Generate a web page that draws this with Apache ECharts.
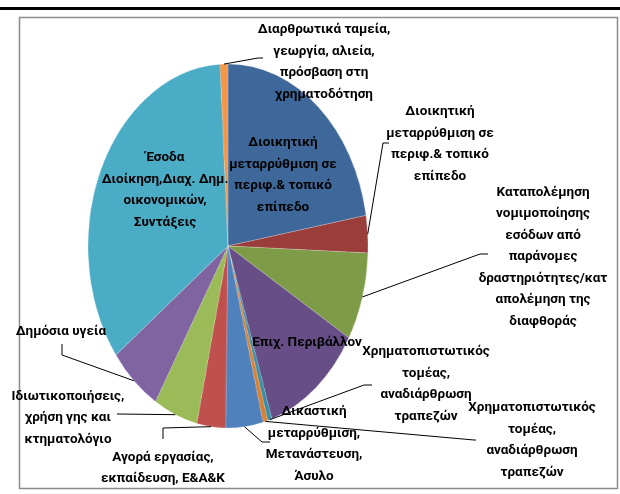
<!DOCTYPE html>
<html><head><meta charset="utf-8">
<script src="https://cdn.jsdelivr.net/npm/echarts@6.0.0/dist/echarts.min.js"></script>
<style>
html,body{margin:0;padding:0;background:#fff;}
#wrap{position:relative;width:620px;height:494px;overflow:hidden;}
#pie,#lab{position:absolute;left:0;top:0;width:620px;height:494px;}
#pie{transform-origin:228px 246px;transform:scaleX(0.769);}
</style></head><body>
<div id="wrap"><div id="pie"></div><div id="lab"></div></div>
<script>
// ---- data (clockwise from 12 o'clock) ----
const categories = [
  'Διοικητική\nμεταρρύθμιση σε\nπεριφ.& τοπικό\nεπίπεδο',
  'Διοικητική\nμεταρρύθμιση σε\nπεριφ.& τοπικό\nεπίπεδο',
  'Καταπολέμηση\nνομιμοποίησης\nεσόδων από\nπαράνομες\nδραστηριότητες/κατ\nαπολέμηση της\nδιαφθοράς',
  'Επιχ. Περιβάλλον',
  'Χρηματοπιστωτικός\nτομέας,\nαναδιάρθρωση\nτραπεζών',
  'Χρηματοπιστωτικός\nτομέας,\nαναδιάρθρωση\nτραπεζών',
  'Δικαστική\nμεταρρύθμιση,\nΜετανάστευση,\nΆσυλο',
  'Αγορά εργασίας,\nεκπαίδευση, Ε&Α&Κ',
  'Ιδιωτικοποιήσεις,\nχρήση γης και\nκτηματολόγιο',
  'Δημόσια υγεία',
  'Έσοδα\nΔιοίκηση,Διαχ. Δημ.\nοικονομικών,\nΣυντάξεις',
  'Διαρθρωτικά ταμεία,\nγεωργία, αλιεία,\nπρόσβαση στη\nχρηματοδότηση'
];
const values = [22.3, 3.3, 7.8, 11.5, 0.5, 0.55, 4.3, 3.3, 5.1, 6.1, 34.3, 0.9];
const colors = ['#3F689A', '#9A3D3B', '#7E9B48', '#674E86', '#3A8EA6', '#DA8033',
                '#4F81BD', '#C0504D', '#9BBB59', '#8064A2', '#4BACC6', '#F79646'];

// ---- layout / style ----
const CX = 228, CY = 246, R = 182, K = 140 / 182;
const labelLayouts = [
  {x: 283, y: 175, inside: true},
  {x: 440, y: 144, line: [[383, 143], [389, 143]]},
  {x: 543, y: 257, line: [[480, 254], [488, 254]]},
  {x: 307, y: 343, inside: true},
  {x: 426, y: 384, line: [[364, 385], [372, 385]]},
  {x: 532, y: 440, line: [[474, 440], [476, 440]]},
  {x: 314, y: 444, line: [[262, 442], [270, 442]]},
  {x: 163, y: 468, line: [[163, 428], [163, 439]]},
  {x: 68, y: 418, line: [[118, 414], [117, 414]]},
  {x: 61, y: 332, line: [[62, 355], [62, 344]]},
  {x: 165, y: 190, inside: true},
  {x: 324, y: 62, line: [[258, 58], [263, 58]]}
];
const textStyle = {
  fontFamily: 'Roboto, "Liberation Sans", Arial, sans-serif',
  fontWeight: 'bold', fontSize: 13.5, lineHeight: 21.5, color: '#000'
};

const pieData = categories.map((c, i) => ({
  name: c, value: values[i], itemStyle: {color: colors[i]}
}));

const chartA = echarts.init(document.getElementById('pie'));
chartA.setOption({
  animation: false,
  series: [{
    type: 'pie', center: [CX, CY], radius: R, startAngle: 90, clockwise: true,
    avoidLabelOverlap: false,
    label: {show: false}, labelLine: {show: false},
    emphasis: {disabled: true},
    itemStyle: {borderColor: 'rgba(255,255,255,0.35)', borderWidth: 0.6},
    data: pieData
  }]
});

const labData = categories.map((c, i) => ({
  name: c, value: values[i],
  label: {position: labelLayouts[i].inside ? 'inside' : 'outside'},
  labelLine: {show: !labelLayouts[i].inside}
}));

const chartB = echarts.init(document.getElementById('lab'));
chartB.setOption({
  animation: false,
  graphic: [
    {type: 'rect', shape: {x: 0, y: 7, width: 620, height: 3}, style: {fill: '#000'}, silent: true},
    {type: 'rect', shape: {x: 19.5, y: 17.5, width: 598, height: 471}, style: {fill: 'none', stroke: '#8c8c8c', lineWidth: 1.5}, silent: true}
  ],
  series: [{
    type: 'pie', center: [CX, CY], radius: R, startAngle: 90, clockwise: true,
    avoidLabelOverlap: false,
    itemStyle: {color: 'rgba(0,0,0,0)'},
    emphasis: {disabled: true},
    label: Object.assign({show: true, formatter: '{b}', align: 'center'}, textStyle),
    labelLine: {show: true, length: 10, length2: 5, lineStyle: {color: '#000', width: 1}},
    labelLayout: function (params) {
      const L = labelLayouts[params.dataIndex];
      const res = {x: L.x, y: L.y, align: 'center', verticalAlign: 'middle'};
      if (L.line && params.labelLinePoints) {
        const p0 = params.labelLinePoints[0];
        res.labelLinePoints = [[CX + (p0[0] - CX) * K, p0[1]], L.line[0], L.line[1]];
      }
      return res;
    },
    data: labData
  }]
});
</script>
</body></html>
